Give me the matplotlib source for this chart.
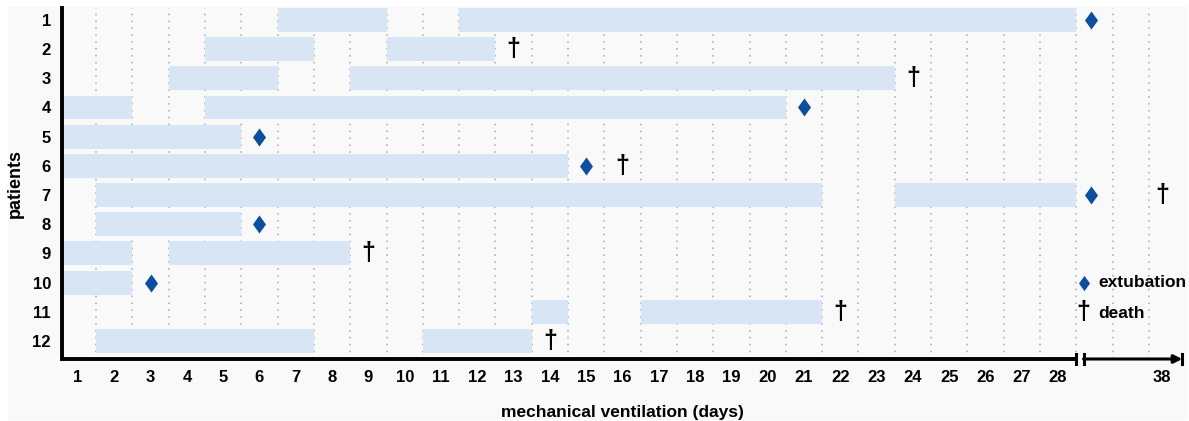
import matplotlib.pyplot as plt
from matplotlib.patches import Rectangle

# ventilation periods per patient: (first day, last day)
patients = [1, 2, 3, 4, 5, 6, 7, 8, 9, 10, 11, 12]
periods = [
    [(7, 9), (12, 28)],
    [(5, 7), (10, 12)],
    [(4, 6), (9, 23)],
    [(1, 2), (5, 20)],
    [(1, 5)],
    [(1, 14)],
    [(2, 21), (24, 28)],
    [(2, 5)],
    [(1, 2), (4, 8)],
    [(1, 2)],
    [(14, 14), (17, 21)],
    [(2, 7), (11, 13)],
]
extubation_patient = [1, 4, 5, 6, 7, 8, 10]
extubation_day = [29, 21, 6, 15, 29, 6, 3]
death_patient = [2, 3, 6, 7, 9, 11, 12]
death_day = [13, 24, 16, 38, 9, 22, 14]
day_ticks = list(range(1, 29)) + [38]

BAR = '#d8e5f5'
BLUE = '#0d4f9e'
BG = '#f9f9f9'
DIAMOND = [(0, 1), (0.72, 0), (0, -1), (-0.72, 0), (0, 1)]


def to_axis(d):
    # broken axis after day 28: days 29..38 squeezed into a short segment
    if d <= 28.5:
        return d
    return 28.9 + (d - 29) * (30.86 - 28.9) / 9


plt.rcParams['font.family'] = ['Liberation Sans', 'DejaVu Sans']

fig = plt.figure(figsize=(11.89, 4.21), dpi=100)
fig.patches.append(Rectangle((8 / 1189, 2 / 421), 1178 / 1189, (421 - 9) / 421,
                             transform=fig.transFigure, color=BG, zorder=-10))
ax = fig.add_axes([62 / 1189, (421 - 359) / 421, (1183 - 62) / 1189, 351 / 421])
ax.set_facecolor(BG)
ax.set_xlim(0.56, 31.44)
ax.set_ylim(12.62, 0.59)

# dotted vertical grid at day boundaries
for xb in [i + 0.5 for i in range(1, 31)]:
    ax.axvline(xb, color='#a8a8a8', lw=1.1, ls=(0, (1, 3.5)), zorder=1)

for p, segs in zip(patients, periods):
    for a, b in segs:
        ax.barh(p, b - a + 1, left=a - 0.5, height=0.82, color=BAR, zorder=2)

for p, d in zip(extubation_patient, extubation_day):
    ax.plot(to_axis(d), p, marker=DIAMOND, color=BLUE, ms=13, mew=0, zorder=4)
for p, d in zip(death_patient, death_day):
    ax.text(to_axis(d), p, '\u2020', ha='center', va='center', fontsize=18,
            fontweight='bold', color='black', zorder=4)

# legend
ax.plot(28.7, 10, marker=DIAMOND, color=BLUE, ms=11, mew=0, clip_on=False, zorder=4)
ax.text(29.1, 10, 'extubation', ha='left', va='center', fontsize=12.5, fontweight='bold')
ax.text(28.7, 11, '\u2020', ha='center', va='center', fontsize=18, fontweight='bold')
ax.text(29.1, 11.05, 'death', ha='left', va='center', fontsize=12.5, fontweight='bold')

ax.set_yticks(patients)
ax.set_yticklabels([str(p) for p in patients], fontsize=12, fontweight='bold')
ax.set_xticks([to_axis(d) for d in day_ticks])
ax.set_xticklabels([str(d) for d in day_ticks], fontsize=12, fontweight='bold')
ax.tick_params(axis='both', length=0)
ax.tick_params(axis='y', pad=8)
ax.tick_params(axis='x', pad=8)

for s in ['top', 'right', 'bottom']:
    ax.spines[s].set_visible(False)
ax.spines['left'].set_linewidth(2.8)

# broken bottom axis with arrow
yb = 12.62
ax.plot([0.56, 28.5], [yb, yb], color='black', lw=2.8, clip_on=False, solid_capstyle='butt')
ax.plot([28.5, 28.5], [yb - 0.17, yb + 0.17], color='black', lw=2.2, clip_on=False)
ax.plot([28.7, 28.7], [yb - 0.17, yb + 0.17], color='black', lw=2.2, clip_on=False)
ax.annotate('', xy=(31.42, yb), xytext=(28.7, yb), annotation_clip=False,
            arrowprops=dict(arrowstyle='-|>', color='black', lw=2.2, mutation_scale=12,
                            shrinkA=0, shrinkB=0))
ax.plot([31.42, 31.42], [yb - 0.17, yb + 0.17], color='black', lw=2.2, clip_on=False)

ax.set_xlabel('mechanical ventilation (days)', fontsize=12.5, fontweight='bold', labelpad=14)
ax.set_ylabel('patients', fontsize=13, fontweight='bold', labelpad=6)

fig.savefig('out.png', dpi=100, facecolor='white')
